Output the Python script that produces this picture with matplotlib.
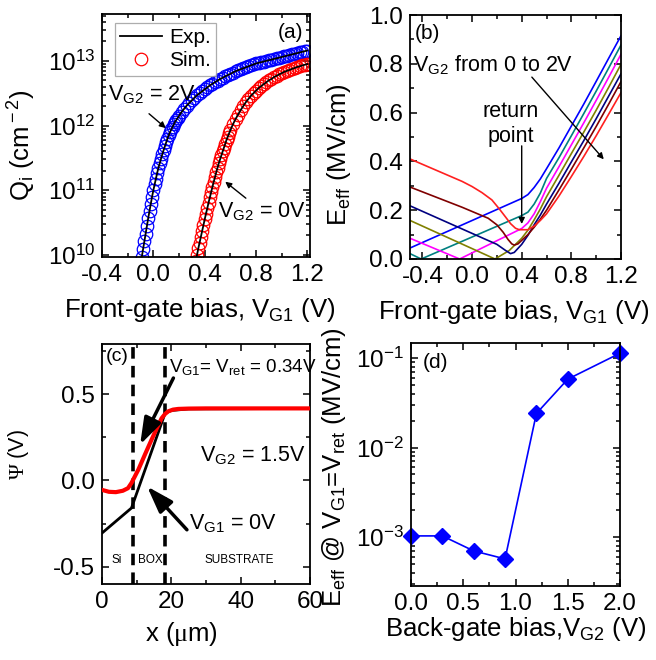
import numpy as np
import matplotlib
matplotlib.use("Agg")
import matplotlib.pyplot as plt
from matplotlib.ticker import AutoMinorLocator, LogLocator, MultipleLocator, NullFormatter

plt.rcParams["font.family"] = ["Liberation Sans", "DejaVu Sans"]
plt.rcParams["mathtext.fontset"] = "custom"
plt.rcParams["mathtext.rm"] = "Liberation Sans"
plt.rcParams["mathtext.it"] = "Liberation Sans:italic"
plt.rcParams["mathtext.bf"] = "Liberation Sans:bold"
plt.rcParams["mathtext.sf"] = "Liberation Serif"

# ---- (a) inversion charge vs front-gate bias (log10 of Qi, cm^-2) ----
vg1_2v = np.round(np.r_[np.arange(-0.10, 0.205, 0.01), np.arange(0.22, 1.205, 0.02)], 2)
logq_2v = [9.86, 9.97, 10.09, 10.21, 10.33, 10.45, 10.57, 10.68, 10.79, 10.90,
           11.00, 11.09, 11.18, 11.27, 11.35, 11.42, 11.49, 11.56, 11.62, 11.68,
           11.74, 11.80, 11.85, 11.90, 11.94, 11.98, 12.02, 12.06, 12.09, 12.12, 12.15,
           12.21, 12.26, 12.31, 12.35, 12.39, 12.43, 12.47, 12.50, 12.53, 12.56,
           12.59, 12.62, 12.645, 12.67, 12.695, 12.72, 12.74, 12.76, 12.78, 12.80,
           12.82, 12.84, 12.855, 12.87, 12.885, 12.90, 12.915, 12.93, 12.945, 12.96,
           12.97, 12.98, 12.99, 13.00, 13.01, 13.02, 13.03, 13.04, 13.05, 13.06,
           13.07, 13.08, 13.09, 13.10, 13.11, 13.12, 13.13, 13.14, 13.15, 13.16]

vg1_0v = np.round(np.r_[np.arange(0.33, 0.605, 0.01), np.arange(0.62, 1.205, 0.02)], 2)
logq_0v = [9.91, 10.00, 10.10, 10.19, 10.28, 10.37, 10.46, 10.55,
           10.64, 10.72, 10.81, 10.89, 10.97, 11.05, 11.13, 11.20, 11.28, 11.35,
           11.42, 11.48, 11.54, 11.60, 11.66, 11.72, 11.78, 11.83, 11.88, 11.93,
           12.02, 12.10, 12.17, 12.24, 12.30, 12.36, 12.41, 12.46, 12.50, 12.54,
           12.58, 12.61, 12.64, 12.67, 12.70, 12.72, 12.75, 12.77, 12.79, 12.81,
           12.83, 12.845, 12.86, 12.875, 12.89, 12.905, 12.915, 12.93, 12.94, 12.95]

# ---- (b) effective field vs front-gate bias, one curve per VG2 (0 ... 2 V) ----
curve_colors = ["#0000FF", "#008080", "#FF00FF", "#808000", "#000080", "#800000", "#FF2020"]
eff_v = [
    [-0.5, 0.4, 0.45, 0.5, 0.55, 0.6, 0.7, 0.8, 0.9, 1.0, 1.1, 1.2],
    [-0.5, -0.41, 0.4, 0.45, 0.5, 0.55, 0.6, 0.7, 0.8, 0.9, 1.0, 1.1, 1.2],
    [-0.5, -0.1, 0.4, 0.45, 0.5, 0.55, 0.6, 0.7, 0.8, 0.9, 1.0, 1.1, 1.2],
    [-0.5, 0.185, 0.3, 0.4, 0.45, 0.5, 0.55, 0.6, 0.7, 0.8, 0.9, 1.0, 1.1, 1.2],
    [-0.5, 0.0, 0.2, 0.27, 0.31, 0.34, 0.4, 0.45, 0.5, 0.55, 0.6, 0.7, 0.8, 0.9, 1.0, 1.1, 1.2],
    [-0.5, -0.08, 0.13, 0.2, 0.25, 0.29, 0.32, 0.34, 0.37, 0.45, 0.5, 0.55, 0.6, 0.7, 0.8, 0.9,
     1.0, 1.1, 1.2],
    [-0.5, -0.08, 0.0, 0.08, 0.16, 0.22, 0.27, 0.31, 0.35, 0.38, 0.45, 0.5, 0.55, 0.6, 0.7, 0.8,
     0.9, 1.0, 1.1, 1.2],
]
eff_e = [
    [0.045, 0.248, 0.264, 0.293, 0.328, 0.37, 0.455, 0.545, 0.635, 0.728, 0.822, 0.915],
    [0.022, 0.0, 0.178, 0.192, 0.225, 0.27, 0.33, 0.415, 0.505, 0.596, 0.688, 0.782, 0.877],
    [0.085, 0.0, 0.125, 0.148, 0.185, 0.235, 0.29, 0.378, 0.468, 0.558, 0.65, 0.744, 0.839],
    [0.158, 0.0, 0.035, 0.085, 0.118, 0.16, 0.205, 0.255, 0.343, 0.432, 0.52, 0.61, 0.703, 0.798],
    [0.218, 0.105, 0.06, 0.035, 0.022, 0.027, 0.06, 0.097, 0.14, 0.18, 0.225, 0.31, 0.398, 0.485,
     0.575, 0.667, 0.759],
    [0.295, 0.212, 0.167, 0.14, 0.11, 0.08, 0.062, 0.057, 0.062, 0.1, 0.13, 0.163, 0.2, 0.283,
     0.368, 0.455, 0.543, 0.634, 0.727],
    [0.41, 0.318, 0.297, 0.272, 0.242, 0.205, 0.172, 0.145, 0.126, 0.12, 0.12, 0.135, 0.158,
     0.185, 0.258, 0.338, 0.42, 0.505, 0.593, 0.682],
]

# ---- (c) potential profile along depth ----
x_ret = [0, 2, 4, 6, 7.5, 8.5, 10.5, 12.5, 14.3, 16, 17.2, 18.2, 19.1, 20.5, 22, 25, 30, 40, 60]
psi_ret = [-0.055, -0.066, -0.068, -0.06, -0.045, -0.015, 0.063, 0.155, 0.236, 0.31, 0.36,
           0.385, 0.40, 0.41, 0.414, 0.416, 0.417, 0.417, 0.417]
x_zero = [0, 8.5, 18.2, 20, 25, 60]
psi_zero = [-0.305, -0.16, 0.389, 0.405, 0.414, 0.417]
interfaces = [9.0, 18.2]

# ---- (d) Eeff at the return point vs back-gate bias ----
vg2 = [0.0, 0.3, 0.6, 0.9, 1.2, 1.5, 2.0]
eff_ret = [1.03e-3, 1.03e-3, 0.70e-3, 0.57e-3, 0.024, 0.058, 0.113]

TICK = 17.5
LAB = 18.5


def style(ax, logy=False):
    for s in ax.spines.values():
        s.set_linewidth(1.3)
    ax.tick_params(which="both", direction="in", top=True, right=True, width=1.1,
                   labelsize=TICK, pad=5)
    ax.tick_params(which="major", length=5)
    ax.tick_params(which="minor", length=3)
    ax.xaxis.set_minor_locator(AutoMinorLocator(2))
    if logy:
        ax.yaxis.set_major_locator(LogLocator(base=10, numticks=20))
        ax.yaxis.set_minor_locator(LogLocator(base=10, subs=np.arange(2, 10), numticks=20))
        ax.yaxis.set_minor_formatter(NullFormatter())
    else:
        ax.yaxis.set_minor_locator(AutoMinorLocator(2))


fig = plt.figure(figsize=(6.56, 6.6), dpi=100)
W, H = 656, 660
ax_a = fig.add_axes([102 / W, 1 - 257 / H, 208 / W, 243 / H])
ax_b = fig.add_axes([410 / W, 1 - 259 / H, 211 / W, 244 / H])
ax_c = fig.add_axes([102 / W, 1 - 584 / H, 208 / W, 240 / H])
ax_d = fig.add_axes([411 / W, 1 - 586 / H, 209 / W, 243 / H])

# (a)
ax_a.set_yscale("log")
ax_a.plot(vg1_2v, 10 ** np.array(logq_2v), "o", mfc="none", mec="#0000FF", ms=9, mew=0.9, zorder=2)
ax_a.plot(vg1_0v, 10 ** np.array(logq_0v), "o", mfc="none", mec="#FF0000", ms=9, mew=0.9,
          zorder=2, label="Sim.")
ax_a.plot(vg1_2v, 10 ** np.array(logq_2v), "-", color="black", lw=1.3, zorder=3, label="Exp.")
ax_a.plot(vg1_0v, 10 ** np.array(logq_0v), "-", color="black", lw=1.3, zorder=3)
ax_a.set_xlim(-0.4, 1.22)
ax_a.set_ylim(9.3e9, 5.3e13)
style(ax_a, logy=True)
ax_a.set_xticks([-0.4, 0.0, 0.4, 0.8, 1.2])
ax_a.set_xticklabels(["-0.4", "0.0", "0.4", "0.8", "1.2"])
h, l = ax_a.get_legend_handles_labels()
leg = ax_a.legend(h[::-1], l[::-1], loc="upper left", bbox_to_anchor=(0.063, 0.963),
                  borderaxespad=0, fontsize=15, frameon=True, fancybox=False,
                  edgecolor="#999999", handlelength=2.0, handletextpad=0.35,
                  borderpad=0.25, labelspacing=0.2)
leg.get_frame().set_linewidth(0.9)
ax_a.text(0.904, 0.922, "(a)", transform=ax_a.transAxes, fontsize=15, ha="center", va="center")
ax_a.text(0.029, 0.646, r"V$_{\rm G2}$ = 2V", transform=ax_a.transAxes, fontsize=15.5, va="baseline")
ax_a.text(0.558, 0.165, r"V$_{\rm G2}$ = 0V", transform=ax_a.transAxes, fontsize=15.5, va="baseline")
ax_a.annotate("", xy=(0.317, 0.523), xytext=(0.216, 0.597), xycoords="axes fraction",
              arrowprops=dict(arrowstyle="-|>", color="black", lw=1.0, mutation_scale=9))
ax_a.annotate("", xy=(0.582, 0.317), xytext=(0.702, 0.235), xycoords="axes fraction",
              arrowprops=dict(arrowstyle="-|>", color="black", lw=1.0, mutation_scale=9))
ax_a.set_xlabel(r"Front-gate bias, V$_{\rm G1}$ (V)", fontsize=LAB)
ax_a.set_ylabel(r"Q$_{\rm i}$ (cm$^{\rm -2}$)", fontsize=LAB)
ax_a.xaxis.set_label_coords(0.47, -0.16)
ax_a.yaxis.set_label_coords(-0.31, 0.46)

# (b)
for vv, ee, c in zip(eff_v, eff_e, curve_colors):
    ax_b.plot(vv, ee, "-", color=c, lw=1.2)
ax_b.set_xlim(-0.5, 1.2)
ax_b.set_ylim(0, 1.0)
style(ax_b)
ax_b.set_xticks([-0.4, 0.0, 0.4, 0.8, 1.2])
ax_b.set_xticklabels(["-0.4", "0.0", "0.4", "0.8", "1.2"])
ax_b.xaxis.set_minor_locator(MultipleLocator(0.2))
ax_b.yaxis.set_major_locator(MultipleLocator(0.2))
ax_b.yaxis.set_major_formatter(plt.FuncFormatter(lambda v, p: f"{v:.1f}"))
ax_b.text(0.085, 0.926, "(b)", transform=ax_b.transAxes, fontsize=15, ha="center", va="center")
ax_b.text(0.014, 0.77, r"V$_{\rm G2}$ from 0 to 2V", transform=ax_b.transAxes, fontsize=15.5,
          va="baseline")
ax_b.text(0.479, 0.582, "return", transform=ax_b.transAxes, fontsize=15.5, ha="center", va="baseline")
ax_b.text(0.479, 0.48, "point", transform=ax_b.transAxes, fontsize=15.5, ha="center", va="baseline")
ax_b.annotate("", xy=(1.076, 0.40), xytext=(0.467, 0.754),
              arrowprops=dict(arrowstyle="-|>", color="black", lw=1.0, mutation_scale=9))
ax_b.annotate("", xy=(0.40, 0.132), xytext=(0.40, 0.475),
              arrowprops=dict(arrowstyle="-|>", color="black", lw=1.0, mutation_scale=9))
ax_b.set_xlabel(r"Front-gate bias, V$_{\rm G1}$ (V)", fontsize=LAB)
ax_b.set_ylabel(r"E$_{\rm eff}$ (MV/cm)", fontsize=LAB)
ax_b.xaxis.set_label_coords(0.49, -0.16)
ax_b.yaxis.set_label_coords(-0.27, 0.43)

# (c)
ax_c.plot(x_zero, psi_zero, "-", color="black", lw=2.0, zorder=2)
ax_c.plot(x_ret, psi_ret, "-", color="#FF0000", lw=3.0, zorder=3)
for xi in interfaces:
    ax_c.axvline(xi, color="black", lw=2.6, ls=(0, (3.2, 2.0)), zorder=1)
ax_c.set_xlim(0, 60)
ax_c.set_ylim(-0.6, 0.79)
style(ax_c)
ax_c.xaxis.set_major_locator(MultipleLocator(20))
ax_c.xaxis.set_minor_locator(MultipleLocator(10))
ax_c.yaxis.set_major_locator(MultipleLocator(0.5))
ax_c.yaxis.set_minor_locator(MultipleLocator(0.25))
ax_c.yaxis.set_major_formatter(plt.FuncFormatter(lambda v, p: f"{v:.1f}"))
ax_c.text(1.2, 0.72, "(c)", fontsize=14, va="center")
ax_c.text(19.2, 0.63, r"V$_{\rm G1}$= V$_{\rm ret}$ = 0.34V", fontsize=13.5, va="baseline")
ax_c.text(28.3, 0.11, r"V$_{\rm G2}$ = 1.5V", fontsize=15.5, va="baseline")
ax_c.text(25.0, -0.286, r"V$_{\rm G1}$ = 0V", fontsize=15.5, va="baseline")
for xx, name in zip([4.3, 13.9, 39.6], ["Si", "BOX", "SUBSTRATE"]):
    ax_c.text(xx, -0.48, name, fontsize=8.5, ha="center", va="baseline")
ax_c.annotate("", xy=(11.0, 0.207), xytext=(20.6, 0.593),
              arrowprops=dict(arrowstyle="-|>,head_length=0.9,head_width=0.3", color="black",
                              lw=2.5, mutation_scale=18, shrinkA=0, shrinkB=0))
ax_c.annotate("", xy=(13.0, -0.035), xytext=(24.5, -0.286),
              arrowprops=dict(arrowstyle="-|>,head_length=0.9,head_width=0.3", color="black",
                              lw=2.5, mutation_scale=18, shrinkA=0, shrinkB=0))
ax_c.set_xlabel(r"x ($\mathsf{\mu}$m)", fontsize=LAB)
ax_c.set_ylabel(r"$\mathsf{\Psi}$ (V)", fontsize=15.5)
ax_c.xaxis.set_label_coords(0.38, -0.15)
ax_c.yaxis.set_label_coords(-0.34, 0.54)

# (d)
ax_d.set_yscale("log")
ax_d.plot(vg2, eff_ret, "-D", color="#0000FF", lw=1.2, ms=8, mec="#0000FF", clip_on=False)
ax_d.set_xlim(0, 2.0)
ax_d.set_ylim(2.84e-4, 0.147)
style(ax_d, logy=True)
ax_d.xaxis.set_major_locator(MultipleLocator(0.5))
ax_d.xaxis.set_minor_locator(MultipleLocator(0.25))
ax_d.xaxis.set_major_formatter(plt.FuncFormatter(lambda v, p: f"{v:.1f}"))
ax_d.text(0.115, 0.918, "(d)", transform=ax_d.transAxes, fontsize=15, ha="center", va="center")
ax_d.set_xlabel(r"Back-gate bias,V$_{\rm G2}$ (V)", fontsize=LAB)
ax_d.set_ylabel(r"E$_{\rm eff}$ @ V$_{\rm G1}$=V$_{\rm ret}$ (MV/cm)", fontsize=LAB)
ax_d.xaxis.set_label_coords(0.50, -0.12)
ax_d.yaxis.set_label_coords(-0.30, 0.49)

fig.savefig("out.png", dpi=100)
